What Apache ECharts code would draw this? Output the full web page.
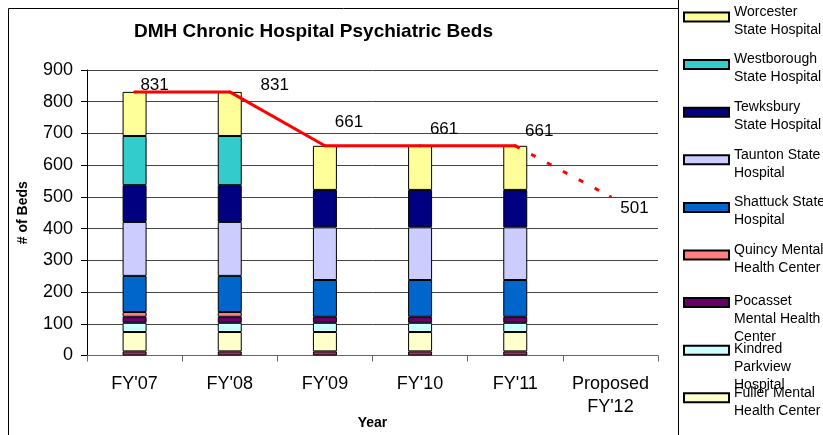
<!DOCTYPE html>
<html>
<head>
<meta charset="utf-8">
<script src="https://cdn.jsdelivr.net/npm/echarts@6/dist/echarts.min.js"></script>
<style>
  html, body { margin: 0; padding: 0; background: #fff; }
  #main { width: 823px; height: 435px; }
</style>
</head>
<body>
<div id="main"></div>
<script>
const font = 'Liberation Sans, Arial, sans-serif';

// categories + stacked segments (bottom to top)
const categories = ["FY'07", "FY'08", "FY'09", "FY'10", "FY'11", "Proposed\nFY'12"];
const corrigan    = [13, 13, 13, 13, 13, null];
const fuller      = [61, 61, 61, 61, 61, null];
const kindred     = [29, 29, 29, 29, 29, null];
const pocasset    = [19, 19, 19, 19, 19, null];
const quincy      = [15, 15, null, null, null, null];
const shattuck    = [114, 114, 116, 116, 116, null];
const taunton     = [170, 170, 166, 166, 166, null];
const tewksbury   = [116, 116, 118, 118, 118, null];
const westborough = [155, 155, null, null, null, null];
const worcester   = [139, 139, 139, 139, 139, null];
// total beds line
const totals = [831, 831, 661, 661, 661, 501];
const yTicks = [0, 900, 100]; // min, max, step

const stackSeries = [
  { name: 'Corrigan Mental Health Center', data: corrigan, color: '#993366' },
  { name: 'Fuller Mental Health Center', data: fuller, color: '#FFFFCC' },
  { name: 'Kindred Parkview Hospital', data: kindred, color: '#CCFFFF' },
  { name: 'Pocasset Mental Health Center', data: pocasset, color: '#660066' },
  { name: 'Quincy Mental Health Center', data: quincy, color: '#FF8080' },
  { name: 'Shattuck State Hospital', data: shattuck, color: '#0066CC' },
  { name: 'Taunton State Hospital', data: taunton, color: '#CCCCFF' },
  { name: 'Tewksbury State Hospital', data: tewksbury, color: '#000080' },
  { name: 'Westborough State Hospital', data: westborough, color: '#33CCCC' },
  { name: 'Worcester State Hospital', data: worcester, color: '#FFFF99' }
];

// legend text as wrapped in the original
const legendWrap = {
  'Worcester State Hospital': 'Worcester\nState Hospital',
  'Westborough State Hospital': 'Westborough\nState Hospital',
  'Tewksbury State Hospital': 'Tewksbury\nState Hospital',
  'Taunton State Hospital': 'Taunton State\nHospital',
  'Shattuck State Hospital': 'Shattuck State\nHospital',
  'Quincy Mental Health Center': 'Quincy Mental\nHealth Center',
  'Pocasset Mental Health Center': 'Pocasset\nMental Health\nCenter',
  'Kindred Parkview Hospital': 'Kindred\nParkview\nHospital',
  'Fuller Mental Health Center': 'Fuller Mental\nHealth Center'
};
const legendOrder = Object.keys(legendWrap);

// one legend block per entry so spacing stays even like excel.
// a spacer line on top pushes the text down next to the swatch
const LH = 18;
const legends = legendOrder.map(function (name, i) {
  const lines = legendWrap[name].split('\n');
  const n = lines.length;
  const gap = n === 2 ? 8 : 34;
  const h = gap + n * LH;
  const c = 17 + i * 47.6;
  return {
    data: [name],
    orient: 'vertical',
    left: 683,
    top: c - h / 2,
    padding: 0,
    itemWidth: 45,
    itemHeight: 9,
    icon: 'rect',
    formatter: function () {
      return '{g| }\n' + lines.map(function (l) { return '{t|' + l + '}'; }).join('\n');
    },
    textStyle: {
      fontFamily: font, fontSize: 14, color: '#000',
      rich: {
        g: { lineHeight: gap, height: gap, fontSize: 2 },
        t: { lineHeight: LH, fontSize: 14, fontFamily: font, color: '#000' }
      }
    }
  };
});

// label nudges for the totals line (excel placed them by hand)
const labelShift = [[20, -7], [45, -7], [24, -24], [24, -17], [24, -15], [24, 12]];

const solidData = totals.map(function (v, i) {
  if (i > 4) return null;
  return { value: v, label: { show: true, offset: labelShift[i] } };
});
const dashData = totals.map(function (v, i) {
  if (i < 4) return null;
  return i === 5 ? { value: v, label: { show: true, offset: labelShift[i] } } : v;
});

const series = stackSeries.map(function (s) {
  return {
    name: s.name,
    type: 'bar',
    stack: 'beds',
    barWidth: 24,
    data: s.data,
    itemStyle: { color: s.color, borderColor: '#000', borderWidth: 1 }
  };
});

series.push({
  name: 'Total',
  type: 'line',
  data: solidData,
  symbol: 'circle',
  symbolSize: 3,
  itemStyle: { color: '#FF0000' },
  lineStyle: { color: '#FF0000', width: 3 },
  label: { show: false, position: 'inside', fontFamily: font, fontSize: 17, color: '#000' },
  z: 5
});
series.push({
  name: 'Proposed',
  type: 'line',
  data: dashData,
  symbol: 'circle',
  symbolSize: 3,
  itemStyle: { color: '#FF0000' },
  lineStyle: { color: '#FF0000', width: 3, type: [5, 13] },
  label: { show: false, position: 'inside', fontFamily: font, fontSize: 17, color: '#000' },
  z: 5
});

const chart = echarts.init(document.getElementById('main'), null, { renderer: 'canvas' });
chart.setOption({
  animation: false,
  backgroundColor: '#fff',
  title: {
    text: 'DMH Chronic Hospital Psychiatric Beds',
    left: 134,
    top: 22,
    padding: 0,
    textStyle: { fontFamily: font, fontSize: 19, fontWeight: 'bold', color: '#000' }
  },
  legend: legends,
  grid: { left: 87, right: 165, top: 70, bottom: 79.5, outerBoundsMode: 'none' },
  xAxis: {
    type: 'category',
    data: categories,
    name: 'Year',
    nameLocation: 'middle',
    nameGap: 61,
    nameMoveOverlap: false,
    nameTextStyle: { fontFamily: font, fontSize: 14, fontWeight: 'bold', color: '#000' },
    axisLine: { lineStyle: { color: '#666', width: 1 } },
    axisTick: { show: true, length: 6, lineStyle: { color: '#666' } },
    axisLabel: { fontFamily: font, fontSize: 18, color: '#000', margin: 17, lineHeight: 23, interval: 0 }
  },
  yAxis: {
    type: 'value',
    min: yTicks[0],
    max: yTicks[1],
    interval: yTicks[2],
    name: '# of Beds',
    nameLocation: 'middle',
    nameGap: 57,
    nameRotate: 90,
    nameTextStyle: { fontFamily: font, fontSize: 14, fontWeight: 'bold', color: '#000' },
    axisLine: { show: true, lineStyle: { color: '#000', width: 1 } },
    axisTick: { show: true, length: 6, lineStyle: { color: '#000' } },
    axisLabel: { fontFamily: font, fontSize: 18, color: '#000', margin: 14 },
    splitLine: { show: true, lineStyle: { color: '#444', width: 1 } }
  },
  graphic: [
    { type: 'rect', shape: { x: 8.5, y: 8.5, width: 670, height: 440 }, style: { fill: 'none', stroke: '#000', lineWidth: 1 }, z: -1 },
    { type: 'line', shape: { x1: 678.5, y1: 0, x2: 678.5, y2: 435 }, style: { stroke: '#000', lineWidth: 1 }, z: -1 }
  ],
  series: series
});
</script>
</body>
</html>
